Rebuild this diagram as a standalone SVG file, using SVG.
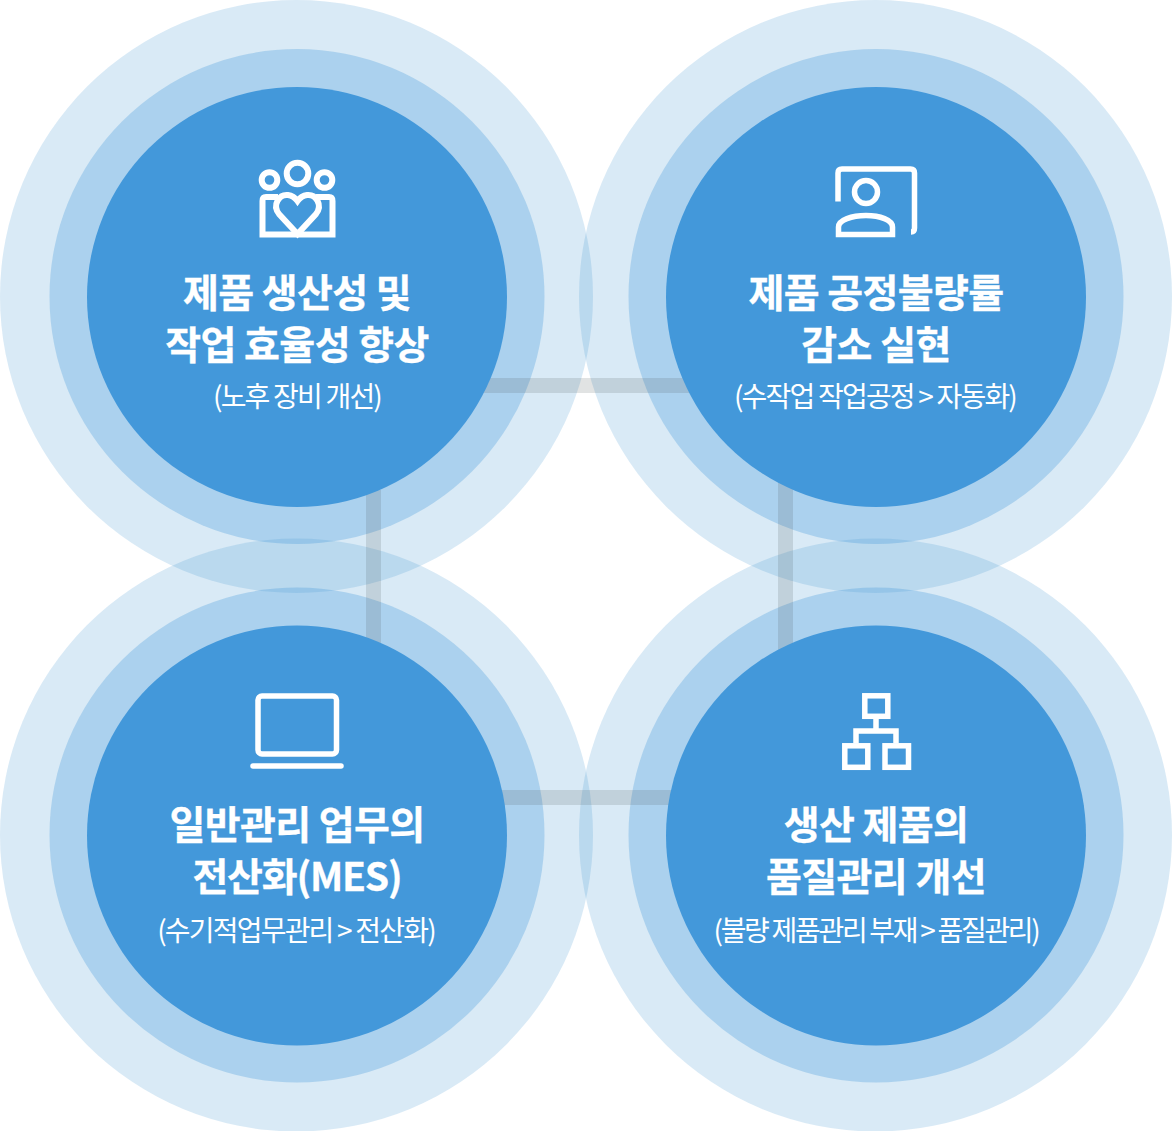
<svg xmlns="http://www.w3.org/2000/svg" width="1172" height="1131" viewBox="0 0 1172 1131">
<style>
.o{fill:#3f94d2;fill-opacity:.2}
.m{fill:#4398da;fill-opacity:.3}
.c{fill:#4398da}
.b{fill:#505a5a;fill-opacity:.17}
.t{font-family:"Noto Sans CJK KR","Noto Sans",sans-serif;font-weight:700;font-size:39px;letter-spacing:-.6px;fill:#fff;stroke:#fff;stroke-width:.3;text-anchor:middle}
.s{font-family:"Noto Sans CJK KR","Noto Sans",sans-serif;font-weight:400;font-size:28px;letter-spacing:-1.8px;fill:#fff;text-anchor:middle}
.i{fill:none;stroke:#fff;stroke-width:5.500}
.h{stroke-width:6}
.t2{letter-spacing:-1.2px}
.s2{letter-spacing:-2.3px}
</style>
<rect width="1172" height="1131" fill="#fff"/>
<g id="halos">
<circle class="o" cx="296.500" cy="296.500" r="296.500"/><circle class="o" cx="875.500" cy="296.500" r="296.500"/><circle class="o" cx="296.500" cy="835" r="296.500"/><circle class="o" cx="875.500" cy="835" r="296.500"/>
<circle class="m" cx="297" cy="296.500" r="247.500"/><circle class="m" cx="876" cy="296.500" r="247.500"/><circle class="m" cx="297" cy="835" r="247.500"/><circle class="m" cx="876" cy="835" r="247.500"/>
</g>
<g id="connectors">
<rect class="b" x="470" y="378" width="230" height="15"/>
<rect class="b" x="366" y="490" width="15" height="160"/>
<rect class="b" x="778" y="480" width="15" height="170"/>
<rect class="b" x="495" y="790" width="185" height="15"/>
</g>
<g id="node-1">
<circle class="c" cx="297" cy="297" r="210"/>
<g class="i h">
<circle cx="269.500" cy="180" r="7.800"/><circle cx="297.500" cy="173.500" r="10.800"/><circle cx="324.500" cy="180" r="7.800"/>
<path d="M278 197H266Q262.500 197 262.500 201V234.500H332.500V201Q332.500 197 329 197H316"/>
<path d="M297.500 234L279 214C272 205 279 194 288 195C292 195.500 295 197.500 297.500 201C300 197.500 303 195.500 307 195C316 194 323 205 316 214Z"/>
</g>
<text class="t" x="297" y="307">제품 생산성 및</text>
<text class="t" x="297" y="359">작업 효율성 향상</text>
<text class="s" x="297" y="407">(노후 장비 개선)</text>
</g>
<g id="node-2">
<circle class="c" cx="876" cy="297" r="210"/>
<g class="i">
<path d="M838 201.500V173Q838 169 842 169H910.500Q914.500 169 914.500 173V228Q914.500 232 911 232"/>
<circle cx="866" cy="192" r="11.500"/>
<path d="M838.500 234.500V227C838.500 220 852 215.500 866 215.500S892.500 220 892.500 227V234.500Z"/>
</g>
<text class="t" x="876" y="307">제품 공정불량률</text>
<text class="t" x="876" y="359">감소 실현</text>
<text class="s" x="875" y="407">(수작업 작업공정 &gt; 자동화)</text>
</g>
<g id="node-3">
<circle class="c" cx="297" cy="835.500" r="210"/>
<g class="i">
<rect x="258" y="696" width="78.500" height="58" rx="4"/>
<path d="M253 766H341" stroke-linecap="round"/>
</g>
<text class="t" x="297" y="839">일반관리 업무의</text>
<text class="t t2" x="297" y="891">전산화(MES)</text>
<text class="s" x="296" y="941">(수기적업무관리 &gt; 전산화)</text>
</g>
<g id="node-4">
<circle class="c" cx="876" cy="835.500" r="210"/>
<g class="i">
<rect x="864.800" y="695.800" width="23" height="20.500"/>
<rect x="844.800" y="745.800" width="23" height="21.500"/>
<rect x="885" y="745.800" width="23.500" height="21.500"/>
<path d="M876 719V731M856 743V731H896V743"/>
</g>
<text class="t" x="876" y="839">생산 제품의</text>
<text class="t" x="876" y="891">품질관리 개선</text>
<text class="s s2" x="876" y="941">(불량 제품관리 부재 &gt; 품질관리)</text>
</g>
</svg>
